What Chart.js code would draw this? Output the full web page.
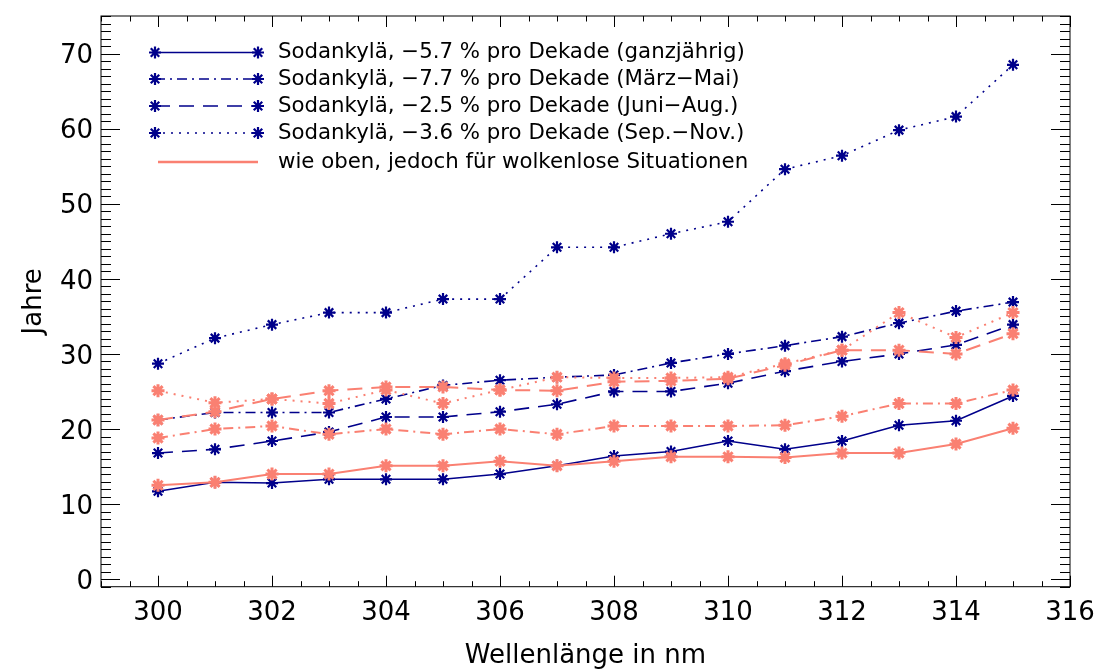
<!DOCTYPE html>
<html>
<head>
<meta charset="utf-8">
<script src="https://cdn.jsdelivr.net/npm/chart.js@4.4.1/dist/chart.umd.min.js"></script>
<style>
html,body{margin:0;padding:0;background:#fff;}
#wrap{position:relative;width:1098px;height:669px;}
</style>
</head>
<body>
<div id="wrap"><canvas id="c" width="1098" height="669"></canvas></div>
<script>
// ---------- data ----------
const wavelengths = [300, 301, 302, 303, 304, 305, 306, 307, 308, 309, 310, 311, 312, 313, 314, 315];
const navyAnnual  = [11.7, 12.9, 12.8, 13.3, 13.3, 13.3, 14.0, 15.1, 16.4, 17.0, 18.4, 17.3, 18.4, 20.5, 21.1, 24.4];
const navySpring  = [21.2, 22.2, 22.2, 22.2, 24.0, 25.8, 26.5, 26.9, 27.2, 28.8, 30.0, 31.1, 32.3, 34.1, 35.7, 36.9];
const navySummer  = [16.8, 17.3, 18.4, 19.6, 21.6, 21.6, 22.3, 23.3, 25.0, 25.0, 26.1, 27.7, 29.0, 30.0, 31.2, 33.9];
const navyAutumn  = [28.7, 32.1, 33.9, 35.5, 35.5, 37.3, 37.3, 44.2, 44.2, 46.0, 47.6, 54.6, 56.4, 59.8, 61.6, 68.5];
const clearAnnual = [12.5, 12.9, 14.0, 14.0, 15.1, 15.1, 15.7, 15.1, 15.7, 16.3, 16.3, 16.2, 16.8, 16.8, 18.0, 20.1];
const clearSpring = [18.8, 20.0, 20.4, 19.3, 20.0, 19.3, 20.0, 19.3, 20.4, 20.4, 20.4, 20.5, 21.7, 23.4, 23.4, 25.2];
const clearSummer = [21.2, 22.3, 24.0, 25.1, 25.6, 25.6, 25.2, 25.1, 26.3, 26.4, 26.7, 28.5, 30.5, 30.5, 30.0, 32.7];
const clearAutumn = [25.1, 23.5, 24.0, 23.4, 25.2, 23.4, 25.2, 26.9, 26.8, 26.8, 26.9, 28.7, 30.5, 35.5, 32.2, 35.5];
const xTickLabels = [300, 302, 304, 306, 308, 310, 312, 314, 316];
const yTickLabels = [0, 10, 20, 30, 40, 50, 60, 70];
const legendLabels = [
  'Sodankylä, −5.7 % pro Dekade (ganzjährig)',
  'Sodankylä, −7.7 % pro Dekade (März−Mai)',
  'Sodankylä, −2.5 % pro Dekade (Juni−Aug.)',
  'Sodankylä, −3.6 % pro Dekade (Sep.−Nov.)',
  'wie oben, jedoch für wolkenlose Situationen'
];
const xTitle = 'Wellenlänge in nm';
const yTitle = 'Jahre';

// ---------- styles ----------
const FONT = "'DejaVu Sans', sans-serif";
const NAVY = '#00008b';
const SALMON = '#fa8072';
const DASH = { solid: [], dashdot: [10, 5, 2, 5], dashed: [15, 9], dotted: [2, 6] };

function pts(arr) { return wavelengths.map((w, i) => ({ x: w, y: arr[i] })); }
function ds(label, arr, color, dash, lw, pr, pw) {
  return {
    label, data: pts(arr), borderColor: color, backgroundColor: color,
    borderDash: dash, borderWidth: lw, tension: 0, fill: false,
    pointStyle: 'star', pointRadius: pr, pointBorderWidth: pw,
    pointBorderColor: color, pointBackgroundColor: color, pointHoverRadius: pr
  };
}

const datasets = [
  ds('wolkenlos ganzjährig', clearAnnual, SALMON, DASH.solid, 2, 6.5, 3),
  ds('wolkenlos März-Mai', clearSpring, SALMON, DASH.dashdot, 2, 6.5, 3),
  ds('wolkenlos Juni-Aug.', clearSummer, SALMON, DASH.dashed, 2, 6.5, 3),
  ds('wolkenlos Sep.-Nov.', clearAutumn, SALMON, DASH.dotted, 2, 6.5, 3),
  ds(legendLabels[0], navyAnnual, NAVY, DASH.solid, 1.6, 6, 2.2),
  ds(legendLabels[1], navySpring, NAVY, DASH.dashdot, 1.6, 6, 2.2),
  ds(legendLabels[2], navySummer, NAVY, DASH.dashed, 1.6, 6, 2.2),
  ds(legendLabels[3], navyAutumn, NAVY, DASH.dotted, 1.6, 6, 2.2)
];

// frame + inward ticks (IDL style)
const framePlugin = {
  id: 'frame',
  afterDatasetsDraw(chart) {
    const { ctx, chartArea: a, scales: { x, y } } = chart;
    ctx.save();
    ctx.strokeStyle = '#000';
    ctx.lineWidth = 1;
    ctx.setLineDash([]);
    ctx.strokeRect(a.left, a.top, a.right - a.left, a.bottom - a.top);
    ctx.beginPath();
    for (let v = x.min; v <= x.max + 1e-9; v += 0.5) {
      const px = Math.round(x.getPixelForValue(v)) + 0.5;
      const len = (Math.abs(v % 2) < 1e-9) ? 11 : 5.5;
      ctx.moveTo(px, a.bottom); ctx.lineTo(px, a.bottom - len);
      ctx.moveTo(px, a.top); ctx.lineTo(px, a.top + len);
    }
    for (let v = y.min; v <= y.max + 1e-9; v += 1) {
      const py = Math.round(y.getPixelForValue(v)) + 0.5;
      const len = (Math.abs(v % 10) < 1e-9) ? 19 : 10;
      ctx.moveTo(a.left, py); ctx.lineTo(a.left + len, py);
      ctx.moveTo(a.right, py); ctx.lineTo(a.right - len, py);
    }
    ctx.stroke();
    ctx.restore();
  }
};

// legend drawn like the IDL legend
const legendPlugin = {
  id: 'idlLegend',
  afterDraw(chart) {
    const ctx = chart.ctx;
    const rows = [52.5, 79, 106, 133, 162];
    const styles = [DASH.solid, DASH.dashdot, DASH.dashed, DASH.dotted];
    const x1 = 155, x2 = 258, tx = 278;
    ctx.save();
    for (let i = 0; i < 5; i++) {
      const yy = rows[i];
      ctx.beginPath();
      if (i < 4) {
        ctx.strokeStyle = NAVY; ctx.lineWidth = 1.6; ctx.setLineDash(styles[i]);
        ctx.moveTo(x1, yy); ctx.lineTo(x2, yy); ctx.stroke();
        ctx.setLineDash([]);
        ctx.lineWidth = 2.2;
        Chart.helpers.drawPoint(ctx, { pointStyle: 'star', radius: 6, rotation: 0, borderWidth: 2.2 }, x1, yy);
        Chart.helpers.drawPoint(ctx, { pointStyle: 'star', radius: 6, rotation: 0, borderWidth: 2.2 }, x2, yy);
      } else {
        ctx.strokeStyle = SALMON; ctx.lineWidth = 2.5; ctx.setLineDash([]);
        ctx.moveTo(x1 + 3, yy); ctx.lineTo(x2, yy); ctx.stroke();
      }
      ctx.fillStyle = '#000';
      ctx.font = '21.3px ' + FONT;
      ctx.textBaseline = 'middle';
      ctx.textAlign = 'left';
      ctx.fillText(legendLabels[i], tx, yy);
    }
    ctx.restore();
  }
};

new Chart(document.getElementById('c'), {
  type: 'line',
  data: { datasets },
  options: {
    responsive: false,
    animation: false,
    devicePixelRatio: 1,
    layout: { padding: { top: 16, right: 28, left: 0, bottom: 0 }, autoPadding: false },
    plugins: { legend: { display: false }, tooltip: { enabled: false } },
    scales: {
      x: {
        type: 'linear', min: 299, max: 316,
        afterBuildTicks: s => { s.ticks = xTickLabels.map(v => ({ value: v })); },
        afterFit: s => { s.height = 82.3; s.paddingLeft = 0; s.paddingRight = 0; },
        grid: { display: false, drawTicks: false },
        border: { display: false },
        ticks: { color: '#000', font: { family: FONT, size: 26 }, padding: 11, maxRotation: 0, autoSkip: false },
        title: { display: true, text: xTitle, color: '#000', font: { family: FONT, size: 26, lineHeight: 1 }, padding: { top: 0, bottom: 0 } }
      },
      y: {
        type: 'linear', min: -1, max: 75,
        afterBuildTicks: s => { s.ticks = yTickLabels.map(v => ({ value: v })); },
        afterFit: s => { s.width = 101; s.paddingTop = 0; s.paddingBottom = 0; },
        grid: { display: false, drawTicks: false },
        border: { display: false },
        ticks: { color: '#000', font: { family: FONT, size: 26 }, padding: 8, labelOffset: 3 },
        title: { display: true, text: yTitle, color: '#000', font: { family: FONT, size: 26, lineHeight: 1 }, padding: { top: 21, bottom: 0 } }
      }
    }
  },
  plugins: [framePlugin, legendPlugin]
});
</script>
</body>
</html>
